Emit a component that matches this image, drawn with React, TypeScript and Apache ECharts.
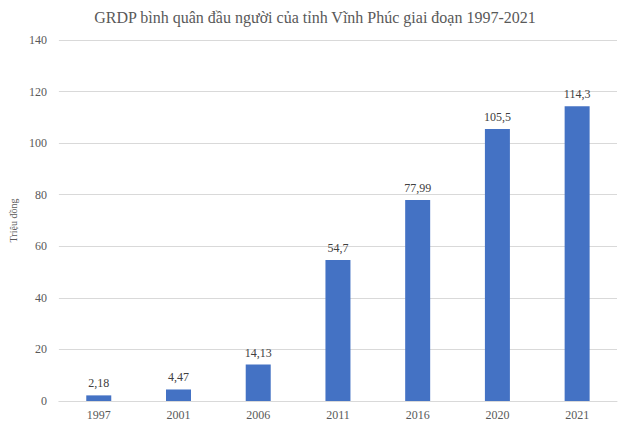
import React, { useEffect, useRef } from "react";
import * as echarts from "echarts";

const categories = ["1997", "2001", "2006", "2011", "2016", "2020", "2021"];
const values = [2.18, 4.47, 14.13, 54.7, 77.99, 105.5, 114.3];
const valueLabels = ["2,18", "4,47", "14,13", "54,7", "77,99", "105,5", "114,3"];
const titleText = "GRDP bình quân đầu người của tỉnh Vĩnh Phúc giai đoạn 1997-2021";
const yAxisName = "Triệu đồng";

export default function App() {
  const ref = useRef<HTMLDivElement>(null);
  useEffect(() => {
    if (!ref.current) return;
    const chart = echarts.init(ref.current, undefined, { renderer: "svg" });
    const font = "'Liberation Serif', 'Times New Roman', serif";
    chart.setOption({
      animation: false,
      backgroundColor: "#ffffff",
      title: {
        text: titleText,
        left: "center",
        top: 4,
        textStyle: { fontFamily: font, fontSize: 16, fontWeight: "normal", color: "#595959" },
      },
      grid: { left: 58, right: 13, top: 40, bottom: 28 },
      xAxis: {
        type: "category",
        data: categories,
        axisTick: { show: false },
        axisLine: { lineStyle: { color: "#d9d9d9" } },
        axisLabel: { fontFamily: font, fontSize: 12, color: "#595959", margin: 8 },
      },
      yAxis: {
        type: "value",
        min: 0,
        max: 140,
        interval: 20,
        name: yAxisName,
        nameLocation: "middle",
        nameGap: 26,
        nameTextStyle: { fontFamily: font, fontSize: 10, color: "#595959" },
        axisLine: { show: false },
        axisTick: { show: false },
        splitLine: { lineStyle: { color: "#d9d9d9" } },
        axisLabel: { fontFamily: font, fontSize: 12, color: "#595959", margin: 12 },
      },
      series: [
        {
          type: "bar",
          data: values,
          barWidth: 25,
          itemStyle: { color: "#4472C4" },
          label: {
            show: true,
            position: "top",
            distance: 6,
            fontFamily: font,
            fontSize: 12,
            color: "#404040",
            formatter: (p: any) => valueLabels[p.dataIndex],
          },
        },
      ],
    });
    return () => chart.dispose();
  }, []);
  return <div ref={ref} style={{ width: 630, height: 429, margin: -8 }} />;
}
